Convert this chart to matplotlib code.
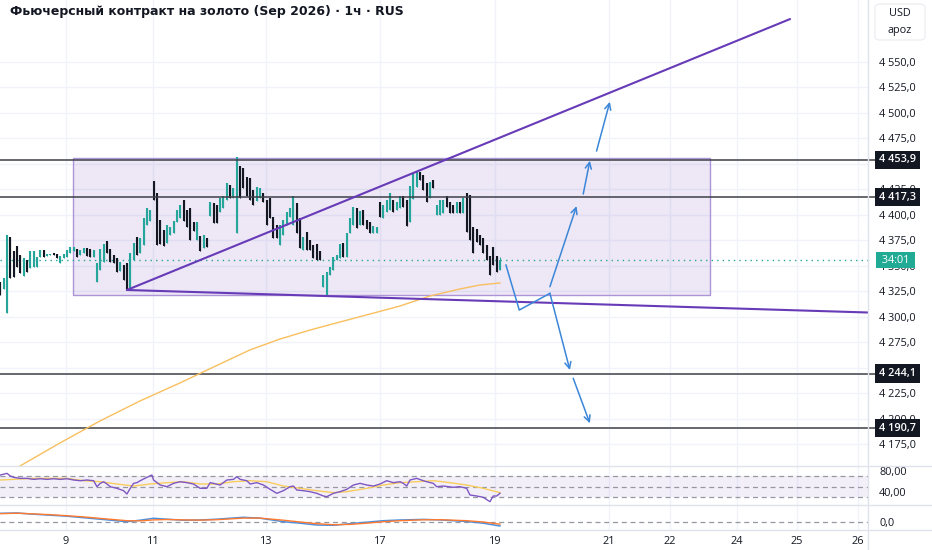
import matplotlib
matplotlib.use("Agg")
import matplotlib.pyplot as plt
import matplotlib.transforms as mtransforms
from matplotlib.patches import Rectangle, FancyBboxPatch
from matplotlib.lines import Line2D

plt.rcParams['font.family'] = ['Open Sans', 'DejaVu Sans']

TITLE = "Фьючерсный контракт на золото (Sep 2026) · 1ч · RUS"

# ---- hourly candles ----
opens = [4334, 4327, 4304, 4378, 4364, 4369, 4361, 4340, 4356, 4348,
         4349, 4349, 4359, 4365, 4360, 4361, 4363, 4362, 4353, 4358,
         4359, 4363, 4364, 4366, 4361, 4363, 4367, 4366, 4359, 4334,
         4346, 4354, 4374, 4366, 4361, 4358, 4345, 4351, 4353, 4327,
         4356, 4378, 4363, 4370, 4390, 4394, 4433, 4421, 4395, 4385,
         4372, 4380, 4382, 4393, 4397, 4415, 4405, 4407, 4393, 4375,
         4379, 4367, 4377, 4399, 4412, 4410, 4403, 4407, 4415, 4429,
         4417, 4382, 4448, 4446, 4437, 4436, 4424, 4414, 4417, 4421,
         4415, 4417, 4398, 4390, 4370, 4380, 4390, 4398, 4390, 4412,
         4397, 4365, 4383, 4375, 4370, 4371, 4364, 4329, 4321, 4341,
         4346, 4356, 4358, 4372, 4359, 4382, 4390, 4407, 4390, 4405,
         4395, 4393, 4382, 4382, 4413, 4397, 4403, 4405, 4415, 4405,
         4407, 4418, 4415, 4393, 4416, 4427, 4442, 4439, 4431, 4417,
         4434, 4400, 4400, 4402, 4418, 4413, 4410, 4402, 4413, 4402,
         4421, 4419, 4388, 4386, 4380, 4377, 4370, 4360, 4368, 4360,
         4346]
closes = [4321, 4338, 4380, 4338, 4339, 4349, 4343, 4358, 4344, 4364,
          4364, 4359, 4365, 4359, 4362, 4362, 4361, 4358, 4360, 4362,
          4365, 4368, 4368, 4359, 4365, 4367, 4360, 4359, 4365, 4353,
          4366, 4371, 4363, 4354, 4353, 4344, 4354, 4336, 4327, 4363,
          4372, 4361, 4377, 4397, 4407, 4405, 4415, 4370, 4371, 4369,
          4390, 4388, 4394, 4405, 4410, 4394, 4388, 4375, 4384, 4393,
          4364, 4380, 4368, 4413, 4392, 4392, 4417, 4418, 4431, 4417,
          4426, 4457, 4417, 4426, 4418, 4415, 4410, 4427, 4426, 4413,
          4390, 4397, 4377, 4377, 4390, 4395, 4403, 4407, 4418, 4382,
          4367, 4378, 4365, 4365, 4358, 4356, 4356, 4341, 4344, 4349,
          4359, 4361, 4371, 4359, 4382, 4397, 4408, 4387, 4404, 4390,
          4386, 4382, 4389, 4388, 4398, 4410, 4415, 4421, 4403, 4413,
          4418, 4408, 4389, 4428, 4441, 4443, 4434, 4424, 4413, 4432,
          4426, 4410, 4415, 4415, 4408, 4402, 4402, 4413, 4402, 4417,
          4383, 4375, 4363, 4373, 4370, 4363, 4356, 4341, 4351, 4344,
          4356]
highs = [max(o, c) for o, c in zip(opens, closes)]
lows = [min(o, c) for o, c in zip(opens, closes)]
highs[-1] = 4359

# ---- horizontal levels, price marker ----
levels = [4453.9, 4417.3, 4244.1, 4190.7]
last_price = 4355.6
timer_label = "34:01"

# ---- drawings ----
range_box_x = [21.8, 213.0]
range_box_y = [4321.3, 4455.8]
upper_line_x = [38.0, 237.1]
upper_line_y = [4326.2, 4592.2]
lower_line_x = [38.0, 260.5]
lower_line_y = [4326.2, 4304.1]
path_x = [151.8, 155.8, 165.0]
path_y = [4350.7, 4306.5, 4322.9]
arrow_start_x = [165.0, 172.0, 165.0, 175.0, 179.0]
arrow_start_y = [4322.9, 4239.5, 4329.4, 4420.4, 4462.6]
arrow_end_x = [171.0, 177.0, 173.0, 177.0, 183.0]
arrow_end_y = [4247.6, 4195.3, 4408.6, 4453.1, 4511.0]

# ---- moving average on price ----
ma_x = [5.9, 17.9, 29.9, 41.9, 53.9, 65.9, 74.9, 84.0, 93.0, 102.0,
        111.0, 120.0, 129.0, 138.0, 144.0, 150.0]
ma_y = [4153.4, 4176.0, 4197.6, 4217.2, 4234.9, 4253.5, 4267.3, 4278.1, 4286.9, 4294.8,
        4302.6, 4310.5, 4320.3, 4327.2, 4331.1, 4333.1]

# ---- RSI ----
rsi_x = [0, 2, 3, 4, 6, 8, 10, 12, 14, 16, 18, 20, 22, 24, 26, 28, 29, 30, 31, 32,
         33, 35, 37, 38, 39, 40, 41, 42, 44, 45.5, 46, 48, 50, 52, 54, 56, 58, 60, 62, 63,
         64, 66, 68, 70, 71, 72, 74, 75, 77, 79, 81, 83, 85, 87, 88, 89, 91, 93, 95, 97,
         98, 100, 102, 104, 106, 108, 110, 112, 114, 116, 118, 120, 121, 122, 123, 125, 127, 128, 130, 131,
         133, 136, 138, 140, 141, 143, 145, 147, 148, 149, 150]
rsi_y = [71.9, 75, 70, 67.5, 65.6, 65.6, 63.7, 64.9, 63.7, 64.9, 63.7, 64.9, 62.5, 61.2, 62.5, 61.2, 50, 56.2, 59.3, 55,
         50, 46.9, 42.5, 36.2, 46.9, 56.2, 57.5, 61.2, 67.5, 71.9, 62.5, 53.1, 50, 56.2, 59.3, 57.5, 55, 46.9, 46.9, 57.5,
         56.2, 53.1, 62.5, 63.7, 68.7, 63.7, 61.2, 55, 57.5, 53.1, 45, 37.5, 42.5, 50, 51.2, 43.7, 42.5, 40.6, 37.5, 32.5,
         31.2, 37.5, 40.6, 45, 53.1, 56.2, 53.1, 51.2, 55, 61.2, 57.5, 59.3, 56.2, 51.2, 62.5, 65.6, 61.2, 59.3, 56.2, 50,
         51.2, 48.8, 50, 46.9, 34.4, 32.5, 30, 21.8, 32.5, 32.5, 37.5]
rsi_ma_x = [0, 10, 20, 25, 30, 35, 40, 45, 50, 55, 60, 65, 70, 75, 80,
            85, 90, 95, 100, 104, 110, 115, 120, 125, 130, 135, 140, 145, 150]
rsi_ma_y = [62.5, 65.6, 65.6, 61.2, 59.3, 55, 51.2, 55, 57.5, 59.3, 55, 55, 59.3, 61.2, 59.3,
            51.2, 46.9, 42.5, 38.8, 40.6, 46.9, 53.1, 57.5, 59.3, 61.2, 57.5, 53.1, 46.9, 38.8]

# ---- MACD ----
macd_x = [0, 5, 10, 15, 20, 25, 30, 38, 42, 46, 50, 55, 60, 65, 70,
          73, 78, 85, 90, 95, 100, 105, 110, 115, 120, 127, 132, 140, 145, 150]
macd_y = [8.4, 8.7, 7.5, 6.5, 5.5, 4.0, 2.5, 0.0, 1.5, 3.4, 2.5, 1.5, 1.7, 2.5, 3.7,
          4.4, 3.5, 0.0, -1.5, -3.3, -3.6, -2.0, -0.5, 1.0, 1.7, 2.3, 1.8, 0.2, -1.5, -4.3]
signal_y = [8.0, 8.5, 7.8, 7.0, 6.0, 4.8, 3.3, 1.0, 0.8, 1.8, 2.2, 1.8, 1.6, 2.0, 3.0,
            3.6, 3.6, 1.5, -0.3, -2.0, -3.0, -2.7, -1.5, 0.0, 1.0, 1.9, 2.0, 1.0, -0.3, -2.5]

# ---- axis labels ----
date_pos = [19.7, 45.8, 79.8, 114.0, 148.5, 182.7, 201.0, 221.2, 239.2, 257.5]
date_labels = ["9", "11", "13", "17", "19", "21", "22", "24", "25", "26"]
price_ticks = [4175, 4200, 4225, 4250, 4275, 4300, 4325, 4350, 4375, 4400,
               4425, 4450, 4475, 4500, 4525, 4550]
rsi_ticks = [80, 40]
macd_ticks = [0]
currency = "USD"
unit = "apoz"

# ================= drawing =================
W, H = 932, 550
TXT = '#131722'
GRID = '#f0f3fa'
SEP = '#e0e3eb'
UP = '#26a69a'
DOWN = '#131722'
FS = 7.8


def rect(x0, y0, x1, y1):
    return [x0 / W, 1 - y1 / H, (x1 - x0) / W, (y1 - y0) / H]


def fmt(v, d=1):
    s = f"{v:,.{d}f}"
    return s.replace(",", " ").replace(".", ",")


fig = plt.figure(figsize=(W / 100, H / 100), dpi=100)
fig.patch.set_facecolor('white')

ax = fig.add_axes(rect(0, 0, 868, 466))
ax_rsi = fig.add_axes(rect(0, 466, 868, 505))
ax_macd = fig.add_axes(rect(0, 505, 868, 530))

XL = (-0.1, 260.5)
for a in (ax, ax_rsi, ax_macd):
    a.set_xlim(*XL)
    for s in a.spines.values():
        s.set_visible(False)
    a.set_xticks(date_pos)
    a.tick_params(axis='both', length=0, colors=TXT, labelsize=FS)
    a.yaxis.tick_right()
    a.tick_params(axis='y', pad=8)
    a.grid(True, color=GRID, lw=1, zorder=0)
    a.set_axisbelow(True)
    a.set_facecolor('none')

ax.set_xticklabels([])
ax_rsi.set_xticklabels([])
ax_macd.set_xticklabels(date_labels)
ax_macd.tick_params(axis='x', pad=4)

# main pane
ax.set_ylim(4153.4, 4610.9)
ax.set_yticks(price_ticks)
ax.set_yticklabels([fmt(v) for v in price_ticks])

blend = mtransforms.blended_transform_factory(ax.transAxes, ax.transData)

ax.add_patch(Rectangle((range_box_x[0], range_box_y[0]),
                       range_box_x[1] - range_box_x[0], range_box_y[1] - range_box_y[0],
                       fc=(149 / 255, 117 / 255, 205 / 255, 0.17),
                       ec=(149 / 255, 117 / 255, 205 / 255, 0.75), lw=1, zorder=1))

ax.axhline(last_price, color=UP, ls=(0, (1, 3)), lw=1, zorder=2)

for i, (o, h, l, c) in enumerate(zip(opens, highs, lows, closes)):
    col = UP if c >= o else DOWN
    ax.vlines(i, l, h, color=col, lw=0.8, zorder=3)
    ax.vlines(i, min(o, c), max(o, c), color=col, lw=1.5, zorder=3)

for lv in levels:
    ax.axhline(lv, xmin=0, xmax=878 / 868, color='#3c3f47', lw=1.1, zorder=4, clip_on=False)

ax.plot(ma_x, ma_y, color='#f8bf5e', lw=1.0, zorder=4)

ax.plot(upper_line_x, upper_line_y, color='#673ab7', lw=1.5, zorder=5, solid_capstyle='round')
ax.plot(lower_line_x, lower_line_y, color='#673ab7', lw=1.5, zorder=5, solid_capstyle='round')

BLUE = '#3b86d8'
ax.plot(path_x, path_y, color=BLUE, lw=1.1, zorder=6)
for sx, sy, ex, ey in zip(arrow_start_x, arrow_start_y, arrow_end_x, arrow_end_y):
    ax.annotate('', xy=(ex, ey), xytext=(sx, sy),
                arrowprops=dict(arrowstyle='->,head_length=0.45,head_width=0.22',
                                color=BLUE, lw=1.1, shrinkA=0, shrinkB=0), zorder=6)

lx = 1.0 + 11 / 868
for lv in levels:
    ax.text(lx, lv, fmt(lv), transform=blend, ha='left', va='center', color='white',
            fontsize=FS, fontweight='semibold', clip_on=False, zorder=10,
            bbox=dict(boxstyle='square,pad=0.35', fc='#131722', ec='none'))
ax.text(lx, last_price, " " + timer_label + " ", transform=blend, ha='left', va='center',
        color='white', fontsize=FS, clip_on=False, zorder=10,
        bbox=dict(boxstyle='square,pad=0.25', fc='#22ab94', ec='none'))

# RSI pane
ax_rsi.set_ylim(15.6, 88.8)
ax_rsi.set_yticks(rsi_ticks)
ax_rsi.set_yticklabels([fmt(v, 2) for v in rsi_ticks])
ax_rsi.grid(False, axis='y')
ax_rsi.axhspan(30, 70, color=(126 / 255, 87 / 255, 194 / 255, 0.09), lw=0, zorder=1)
for lv in (70, 50, 30):
    ax_rsi.axhline(lv, color='#9598a1', ls=(0, (4, 3)), lw=0.9, zorder=2)
ax_rsi.plot(rsi_ma_x, rsi_ma_y, color='#f9cd5c', lw=1.0, zorder=3)
ax_rsi.plot(rsi_x, rsi_y, color='#7e57c2', lw=1.0, zorder=4)

# MACD pane
ax_macd.set_ylim(-8.3, 16.7)
ax_macd.set_yticks(macd_ticks)
ax_macd.set_yticklabels([fmt(v, 1) for v in macd_ticks])
ax_macd.grid(False, axis='y')
ax_macd.axhline(0, color='#9598a1', ls=(0, (4, 3)), lw=0.9, zorder=2)
ax_macd.plot(macd_x, macd_y, color='#4a8fe0', lw=1.1, zorder=3)
ax_macd.plot(macd_x, signal_y, color='#ff7a2f', lw=1.0, zorder=4)

# separators
fig.add_artist(Line2D([868 / W, 868 / W], [0, 1], color=SEP, lw=1))
for yy in (466, 505, 530):
    fig.add_artist(Line2D([0, 1], [1 - yy / H, 1 - yy / H], color=SEP, lw=1))

# currency box
fig.add_artist(FancyBboxPatch((875 / W, 1 - 40 / H), 50 / W, 36 / H,
                              boxstyle='round,pad=0,rounding_size=0.006',
                              fc='white', ec='#eceef2', lw=1, transform=fig.transFigure))
fig.text(900 / W, 1 - 13 / H, currency, ha='center', va='center', fontsize=FS, color=TXT)
fig.text(900 / W, 1 - 30 / H, unit, ha='center', va='center', fontsize=FS, color=TXT)

# title
fig.text(10 / W, 1 - 12 / H, TITLE, ha='left', va='center', fontsize=9.0,
         fontweight='bold', color=TXT, family=['DejaVu Sans'])

fig.savefig('out.png', dpi=100, facecolor='white')
